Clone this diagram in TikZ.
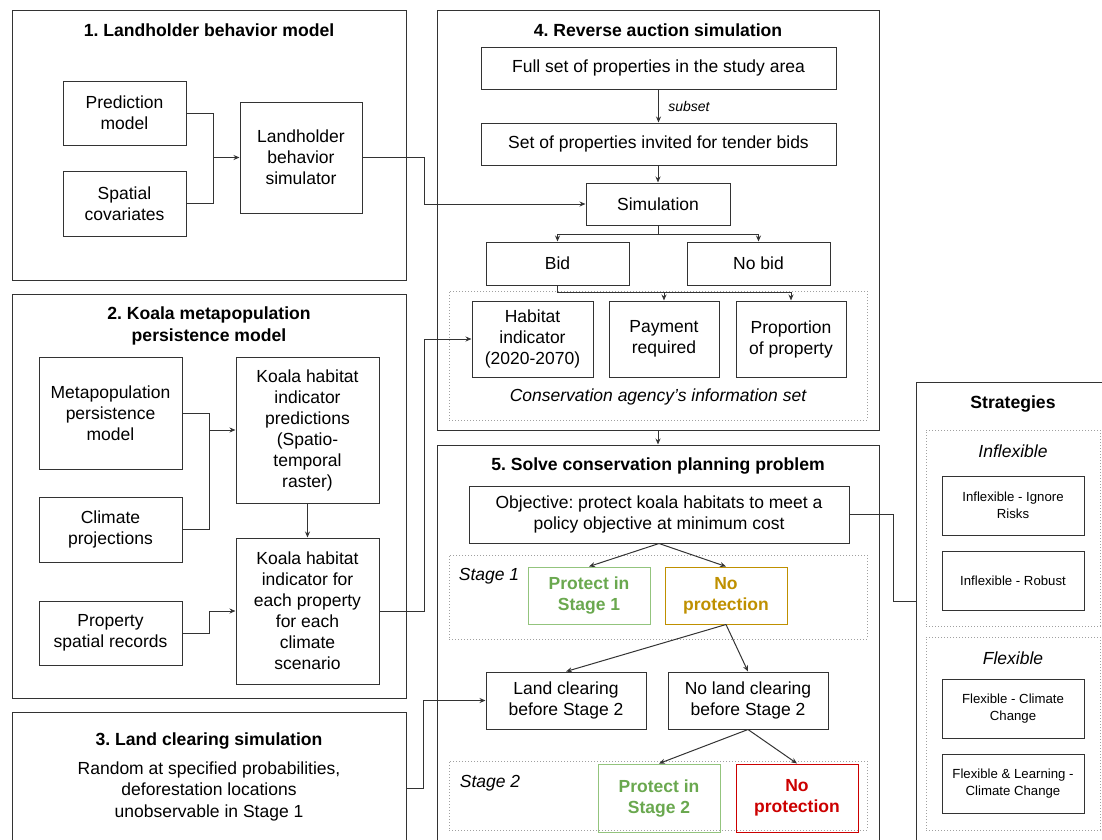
\documentclass[tikz,border=0pt]{standalone}
\usepackage{fontspec}
\setmainfont{Liberation Sans}
\frenchspacing
\usetikzlibrary{arrows.meta}
\definecolor{boxgray}{HTML}{333333}
\definecolor{dotgray}{HTML}{A0A0A0}
\definecolor{protgreen}{HTML}{6AA84F}
\definecolor{protgreenline}{HTML}{93C47D}
\definecolor{noprotgold}{HTML}{BF9000}
\definecolor{noprotred}{HTML}{CC0000}
\tikzset{
  panel/.style={draw=boxgray, line width=1pt, inner sep=0pt},
  box/.style={draw=boxgray, line width=1pt, align=center, inner sep=2pt,
    font=\fontsize{17.5}{21}\selectfont},
  smallbox/.style={box, font=\fontsize{13.2}{16.5}\selectfont},
  group/.style={draw=dotgray, dotted, line width=1pt, inner sep=0pt},
  title/.style={align=center, font=\fontsize{17.6}{22}\selectfont\bfseries},
  note/.style={align=center, font=\fontsize{17.5}{21.5}\selectfont},
  tag/.style={font=\fontsize{17.5}{21}\selectfont\itshape},
  protbox/.style={box, draw=protgreenline, text=protgreen, font=\fontsize{17.5}{21}\selectfont\bfseries},
  goldbox/.style={box, draw=noprotgold, text=noprotgold, font=\fontsize{17.5}{21}\selectfont\bfseries},
  redbox/.style={box, draw=noprotred, text=noprotred, font=\fontsize{17.5}{21}\selectfont\bfseries},
  wire/.style={draw=boxgray, line width=1pt},
  flow/.style={wire, -{Stealth[length=6pt,width=5pt]}}
}
\begin{document}
\begin{tikzpicture}[x=1pt,y=-1pt]
  \useasboundingbox (0,0) rectangle (1102,839);
  \clip (0,0) rectangle (1102,839);

  % panels
  \node[panel, minimum width=394pt, minimum height=270pt] (p1) at (209,145) {};
  \node[panel, minimum width=394pt, minimum height=404pt] (p2) at (209,496) {};
  \node[panel, minimum width=394pt, minimum height=146pt] (p3) at (209,785) {};
  \node[panel, minimum width=442pt, minimum height=420pt] (p4) at (658,220) {};
  \node[panel, minimum width=442pt, minimum height=415pt] (p5) at (658,652.5) {};
  \node[panel, minimum width=196pt, minimum height=478pt] (strat) at (1014,621) {};

  % 1. landholder behavior
  \node[title] (t1) at (209,30) {1. Landholder behavior model};
  \node[box, minimum width=123pt, minimum height=64pt] (pred) at (124.5,113) {Prediction\\model};
  \node[box, minimum width=123pt, minimum height=65pt] (cov) at (124.5,203.5) {Spatial\\covariates};
  \node[box, minimum width=122pt, minimum height=111pt] (lbs) at (301,157.5) {Landholder\\behavior\\simulator};
  \coordinate (j1) at (213,157.5);
  \draw[wire] (pred.east) -| (j1);
  \draw[wire] (cov.east) -| (j1);
  \draw[flow] (j1) -- (lbs.west);

  % 2. koala metapopulation
  \node[title] (t2) at (209,326) {2. Koala metapopulation\\persistence model};
  \node[box, minimum width=143pt, minimum height=112pt] (meta) at (110.5,413) {Metapopulation\\persistence\\model};
  \node[box, minimum width=143pt, minimum height=65pt] (clim) at (110.5,529.5) {Climate\\projections};
  \node[box, minimum width=143pt, minimum height=64pt] (psr) at (110.5,633) {Property\\spatial records};
  \node[box, minimum width=143pt, minimum height=146pt] (kpred) at (307.5,430) {Koala habitat\\indicator\\predictions\\(Spatio-\\temporal\\raster)};
  \node[box, minimum width=143pt, minimum height=146pt] (kprop) at (307.5,611) {Koala habitat\\indicator for\\each property\\for each\\climate\\scenario};
  \coordinate (j2) at (209,430);
  \draw[wire] (meta.east) -| (j2);
  \draw[wire] (clim.east) -| (j2);
  \draw[flow] (j2) -- (kpred.west);
  \draw[flow] (kpred.south) -- (kprop.north);
  \draw[flow] (psr.east) -- ++(27,0) |- (kprop.west);

  % 3. land clearing
  \node[title] (t3) at (209,741) {3. Land clearing simulation};
  \node[note] (n3) at (209,791) {Random at specified probabilities,\\deforestation locations\\unobservable in Stage 1};

  % 4. reverse auction
  \node[title] (t4) at (658,30) {4. Reverse auction simulation};
  \node[box, minimum width=355pt, minimum height=42pt] (full) at (658.5,68) {Full set of properties in the study area};
  \node[box, minimum width=355pt, minimum height=42pt] (inv) at (658.5,144) {Set of properties invited for tender bids};
  \node[box, minimum width=144pt, minimum height=42pt] (simu) at (658,204) {Simulation};
  \node[box, minimum width=143pt, minimum height=43pt] (bid) at (557.5,263.5) {Bid};
  \node[box, minimum width=143pt, minimum height=43pt] (nobid) at (758.5,263.5) {No bid};
  \node[group, minimum width=418pt, minimum height=129pt] (info) at (658,355.5) {};
  \node[box, minimum width=121pt, minimum height=76pt] (hab) at (532.5,339) {Habitat\\indicator\\(2020-2070)};
  \node[box, minimum width=110pt, minimum height=76pt] (pay) at (664,339) {Payment\\required};
  \node[box, minimum width=110pt, minimum height=76pt] (prop) at (791,339) {Proportion\\of property};
  \node[tag] (infolab) at (658,397) {Conservation agency's information set};
  \draw[flow] (full.south) -- node[tag, right, xshift=6pt, font=\fontsize{14}{16}\selectfont\itshape] (sub) {subset} (full.south |- inv.north);
  \draw[flow] (inv.south -| simu.north) -- (simu.north);
  \draw[wire] (simu.south) -- ++(0,9) coordinate (s1);
  \draw[flow] (s1) -| (bid.north);
  \draw[flow] (s1) -| (nobid.north);
  \draw[wire] (bid.south) -- ++(0,7) coordinate (b1);
  \draw[flow] (b1) -| (pay.north);
  \draw[flow] (b1) -| (prop.north);
  \draw[flow] (lbs.east) -- ++(62,0) |- (simu.west);
  \draw[flow] (kprop.east) -- ++(45,0) |- (hab.west);
  \draw[flow] (p4.south) -- (p5.north);

  % 5. conservation planning
  \node[title] (t5) at (658,466) {5. Solve conservation planning problem};
  \node[box, minimum width=380pt, minimum height=57pt] (obj) at (659,514.5) {Objective: protect koala habitats to meet a\\policy objective at minimum cost};
  \node[group, minimum width=418pt, minimum height=84pt] (st1) at (658,597) {};
  \node[tag] (st1lab) at (489,576) {Stage 1};
  \node[protbox, minimum width=122pt, minimum height=57pt] (prot1) at (589,595.5) {Protect in\\Stage 1};
  \node[goldbox, minimum width=122pt, minimum height=57pt] (nop1) at (726,595.5) {No\\protection};
  \node[box, minimum width=160pt, minimum height=57pt] (lc) at (566,700.5) {Land clearing\\before Stage 2};
  \node[box, minimum width=160pt, minimum height=57pt] (nlc) at (748,700.5) {No land clearing\\before Stage 2};
  \node[group, minimum width=418pt, minimum height=69pt] (st2) at (658,795.5) {};
  \node[tag] (st2lab) at (490,783) {Stage 2};
  \node[protbox, minimum width=122pt, minimum height=68pt] (prot2) at (659,798) {Protect in\\Stage 2};
  \node[redbox, minimum width=122pt, minimum height=68pt] (nop2) at (797,798) {No\\protection};
  \draw[flow] (obj.south) -- (prot1.north);
  \draw[flow] (obj.south) -- (nop1.north);
  \draw[flow] (nop1.south) -- (lc.north);
  \draw[flow] (nop1.south) -- (nlc.north);
  \draw[flow] (nlc.south) -- (prot2.north);
  \draw[flow] (nlc.south) -- (nop2.north);
  \draw[flow] ([yshift=-3pt]p3.east) -- ++(17,0) |- (lc.west);

  % strategies
  \node[title] (t6) at (1013,404) {Strategies};
  \node[group, minimum width=174pt, minimum height=196pt] (inflex) at (1013,528) {};
  \node[tag] (inflexlab) at (1013,451) {Inflexible};
  \node[smallbox, minimum width=142pt, minimum height=59pt] (ign) at (1013,505.5) {Inflexible - Ignore\\Risks};
  \node[smallbox, minimum width=142pt, minimum height=59pt] (rob) at (1013,580.5) {Inflexible - Robust};
  \node[group, minimum width=174pt, minimum height=193pt] (flex) at (1013,733.5) {};
  \node[tag] (flexlab) at (1013,658) {Flexible};
  \node[smallbox, minimum width=142pt, minimum height=59pt] (fcc) at (1013,708.5) {Flexible - Climate\\Change};
  \node[smallbox, minimum width=142pt, minimum height=59pt] (flc) at (1013,783.5) {Flexible \& Learning -\\Climate Change};
  \draw[wire] (obj.east) -- ++(44,0) |- ([yshift=20pt]strat.west);
\end{tikzpicture}
\end{document}
